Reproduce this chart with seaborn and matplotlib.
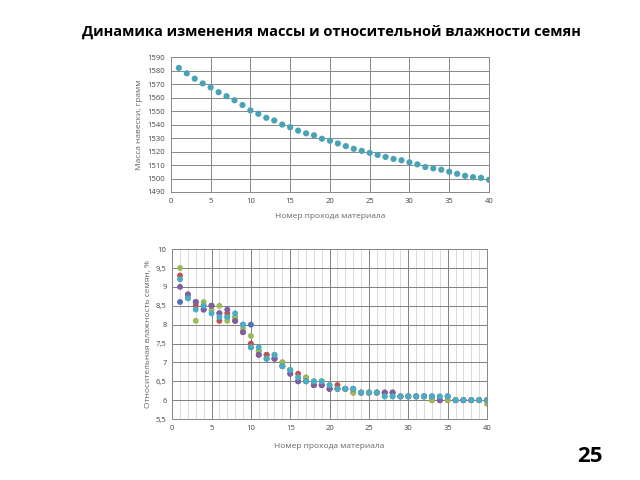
import matplotlib
matplotlib.use("Agg")
import matplotlib.pyplot as plt
import seaborn as sns
import numpy as np
import pandas as pd

passes = list(range(1, 41))
mass = [1582, 1578, 1574, 1570.5, 1567.5, 1564, 1561, 1558, 1554.5, 1550.5,
        1548, 1545, 1543, 1540, 1538, 1535.5, 1533.5, 1532, 1529.5, 1528,
        1526, 1524, 1522, 1520.5, 1519, 1517.5, 1516, 1514.5, 1513.5, 1512,
        1510.5, 1508.5, 1507.5, 1506.5, 1505, 1503.5, 1502, 1501, 1500.5, 1499]

hum_blue = [8.6, 8.8, 8.6, 8.4, 8.5, 8.3, 8.2, 8.2, 8.0, 8.0,
            7.3, 7.2, 7.1, 6.9, 6.7, 6.5, 6.5, 6.4, 6.4, 6.3,
            6.3, 6.3, 6.3, 6.2, 6.2, 6.2, 6.2, 6.2, 6.1, 6.1,
            6.1, 6.1, 6.1, 6.0, 6.1, 6.0, 6.0, 6.0, 6.0, 6.0]
hum_red = [9.3, 8.7, 8.5, 8.5, 8.5, 8.1, 8.3, 8.1, 7.8, 7.5,
           7.2, 7.2, 7.1, 7.0, 6.8, 6.7, 6.6, 6.4, 6.4, 6.3,
           6.4, 6.3, 6.2, 6.2, 6.2, 6.2, 6.2, 6.2, 6.1, 6.1,
           6.1, 6.1, 6.0, 6.0, 6.0, 6.0, 6.0, 6.0, 6.0, 6.0]
hum_green = [9.5, 8.7, 8.1, 8.6, 8.4, 8.5, 8.1, 8.2, 7.9, 7.7,
             7.3, 7.1, 7.2, 7.0, 6.8, 6.6, 6.6, 6.5, 6.5, 6.4,
             6.3, 6.3, 6.2, 6.2, 6.2, 6.2, 6.1, 6.1, 6.1, 6.1,
             6.1, 6.1, 6.0, 6.1, 6.0, 6.0, 6.0, 6.0, 6.0, 5.9]
hum_purple = [9.0, 8.8, 8.6, 8.4, 8.5, 8.3, 8.4, 8.1, 7.8, 7.4,
              7.2, 7.1, 7.1, 6.9, 6.7, 6.5, 6.5, 6.4, 6.4, 6.3,
              6.3, 6.3, 6.3, 6.2, 6.2, 6.2, 6.2, 6.2, 6.1, 6.1,
              6.1, 6.1, 6.1, 6.0, 6.1, 6.0, 6.0, 6.0, 6.0, 6.0]
hum_cyan = [9.2, 8.7, 8.4, 8.5, 8.3, 8.2, 8.2, 8.3, 8.0, 7.4,
            7.4, 7.1, 7.2, 6.9, 6.8, 6.6, 6.5, 6.5, 6.5, 6.4,
            6.3, 6.3, 6.3, 6.2, 6.2, 6.2, 6.1, 6.1, 6.1, 6.1,
            6.1, 6.1, 6.1, 6.1, 6.1, 6.0, 6.0, 6.0, 6.0, 6.0]

series = {"s1": hum_blue, "s2": hum_red, "s3": hum_green, "s4": hum_purple, "s5": hum_cyan}
colors = {"s1": "#4F72B8", "s2": "#C0504D", "s3": "#9BBB59", "s4": "#7E5FA0", "s5": "#4BACC6"}

title = "Динамика изменения массы и относительной влажности семян"
top_xlabel = "Номер прохода материала"
top_ylabel = "Масса навески, грамм"
bot_xlabel = "Номер прохода материала"
bot_ylabel = "Относительная влажность семян, %"
page_num = "25"

sns.set_style("white")
plt.rcParams['font.family'] = ['Open Sans', 'DejaVu Sans']

fig = plt.figure(figsize=(6.4, 4.8), dpi=100)

tick_color = "#444444"
lab_color = "#666666"

# Top chart
ax1 = fig.add_axes([0.267, 0.600, 0.497, 0.281])
df1 = pd.DataFrame({"x": passes, "y": mass})
sns.scatterplot(data=df1, x="x", y="y", ax=ax1, color="#4AA3B5", s=20, edgecolor="none", zorder=3)
ax1.set_xlim(0, 40)
ax1.set_ylim(1490, 1590)
ax1.set_xticks(range(0, 41, 5))
ax1.set_yticks(range(1490, 1591, 10))
ax1.grid(True, color="#888888", linewidth=0.7)
ax1.set_axisbelow(True)
for s in ax1.spines.values():
    s.set_color("#888888")
    s.set_linewidth(0.7)
ax1.tick_params(labelsize=5.5, colors=tick_color, length=2, width=0.6, pad=2)
ax1.set_xlabel(top_xlabel, fontsize=6, color=lab_color, labelpad=6)
ax1.set_ylabel(top_ylabel, fontsize=6, color=lab_color, labelpad=3)

# Bottom chart
ax2 = fig.add_axes([0.269, 0.127, 0.492, 0.354])
rows = []
for name, vals in series.items():
    for xv, yv in zip(passes, vals):
        rows.append({"x": xv, "y": yv, "series": name})
df2 = pd.DataFrame(rows)
sns.scatterplot(data=df2, x="x", y="y", hue="series", palette=colors, ax=ax2,
                s=18, edgecolor="none", legend=False, zorder=3)
ax2.set_xlim(0, 40)
ax2.set_ylim(5.5, 10)
ax2.set_xticks(range(0, 41, 5))
ax2.set_xticks(range(0, 41, 1), minor=True)
ax2.set_yticks(np.arange(5.5, 10.01, 0.5))
ax2.set_yticklabels([("%g" % v).replace(".", ",") for v in np.arange(5.5, 10.01, 0.5)])
ax2.grid(True, which="major", color="#808080", linewidth=0.7)
ax2.grid(True, which="minor", axis="x", color="#cccccc", linewidth=0.5)
ax2.set_axisbelow(True)
for s in ax2.spines.values():
    s.set_color("#888888")
    s.set_linewidth(0.7)
ax2.tick_params(which="both", labelsize=5.5, colors=tick_color, length=2, width=0.6, pad=2)
ax2.tick_params(which="minor", length=0)
ax2.set_xlabel(bot_xlabel, fontsize=6, color=lab_color, labelpad=8)
ax2.set_ylabel(bot_ylabel, fontsize=6, color=lab_color, labelpad=3)

fig.text(0.518, 0.933, title, ha="center", va="center", fontsize=10.5, fontweight="bold", color="black")
fig.text(0.922, 0.048, page_num, ha="center", va="center", fontsize=16, fontweight="bold", color="black")

fig.savefig("out.png", dpi=100)
